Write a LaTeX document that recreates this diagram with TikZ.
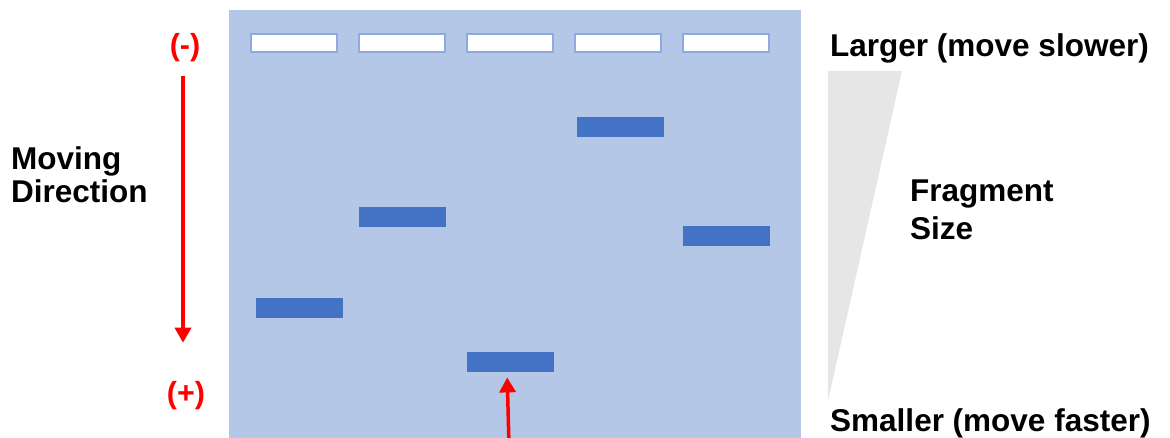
\documentclass[tikz,border=0pt]{standalone}
\usepackage{fontspec}
\setmainfont{Liberation Sans}
\usetikzlibrary{arrows.meta}
\definecolor{gelblue}{HTML}{B4C7E7}
\definecolor{wellborder}{HTML}{8FAADC}
\definecolor{bandblue}{HTML}{4472C4}
\definecolor{arrowred}{HTML}{FF0000}
\definecolor{wedgegray}{HTML}{E7E6E6}
\tikzset{
  well/.style={draw=wellborder, line width=2pt, fill=white},
  band/.style={fill=bandblue, draw=none, minimum width=87pt, minimum height=20pt, inner sep=0pt, anchor=north west},
  label/.style={font=\fontsize{31.5}{33}\selectfont\bfseries, inner sep=0pt, text=black},
  pole/.style={font=\fontsize{30.5}{34}\selectfont\bfseries, inner sep=0pt, text=arrowred},
  redarrow/.style={draw=arrowred, line width=3.5pt, -{Triangle[width=16pt,length=15pt]}},
}
\begin{document}
\begin{tikzpicture}[x=1pt,y=-1pt]
\useasboundingbox (0,0) rectangle (1170,438);
% gel
\fill[gelblue] (229,10) rectangle (801,440);
% wells
\foreach \i/\x in {1/251,2/359,3/467,4/575,5/683}{
  \draw[well] (\x,34) rectangle ++(86,18);
}
% bands
\node[band] (b1) at (256,298) {};
\node[band] (b2) at (359,207) {};
\node[band] (b3) at (467,352) {};
\node[band] (b4) at (577,117) {};
\node[band] (b5) at (683,226) {};
% poles
\node[pole, anchor=base] (minus) at (185,55.6) {(-)};
\node[pole, anchor=base] (plus) at (186,403) {(+)};
\draw[redarrow] ([xshift=-2pt,yshift=-14pt]minus.south) -- ([xshift=-3pt,yshift=38pt]plus.north);
% bottom arrow
\coordinate (tail) at (509,445);
\draw[redarrow] (tail) -- ([xshift=-3.5pt,yshift=-5pt]b3.south);
% left text (base anchor = last line)
\node[label, anchor=base west, align=left] (move) at (11,203) {Moving\\Direction};
% wedge
\fill[wedgegray] (828,71) -- (902,71) -- (828,401) -- cycle;
\node[label, anchor=base west] (larger) at (830,57) {Larger (move slower)};
\node[label, anchor=base west] (smaller) at (830,431) {Smaller (move faster)};
\node[label, anchor=base west, align=left, font=\fontsize{31.5}{38.5}\selectfont\bfseries] (frag) at (910,240) {Fragment\\Size};
\end{tikzpicture}
\end{document}
